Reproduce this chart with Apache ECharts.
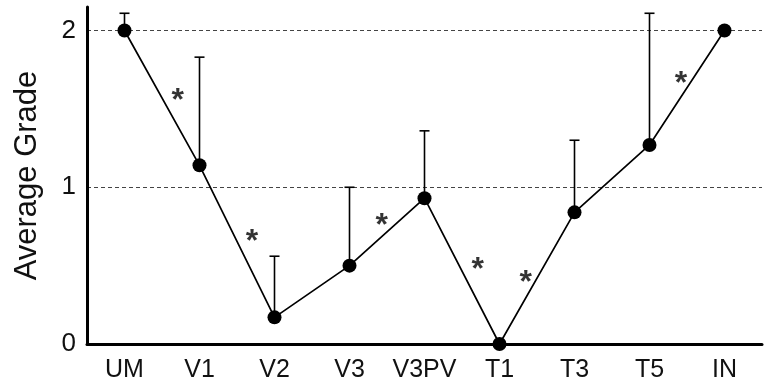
<!DOCTYPE html>
<html>
<head>
<meta charset="utf-8">
<script src="https://cdn.jsdelivr.net/npm/echarts@6/dist/echarts.min.js"></script>
<style>
  html, body { margin: 0; padding: 0; background: #fff; }
  #chart { width: 765px; height: 385px; }
</style>
</head>
<body>
<div id="chart"></div>
<script>
// regions along the pathway
const categories = ["UM", "V1", "V2", "V3", "V3PV", "T1", "T3", "T5", "IN"];
// mean grade per region
const means = [2.0, 1.14, 0.17, 0.50, 0.93, 0.0, 0.84, 1.27, 2.0];
// top of the error bar (mean + error)
const upper = [2.11, 1.83, 0.56, 1.0, 1.36, 0.0, 1.30, 2.11, 2.0];
// significance marks: [position along x (category index), grade]
const starX = [0.71, 1.70, 3.43, 4.71, 5.35, 7.42];
const starY = [1.60, 0.70, 0.80, 0.52, 0.44, 1.71];
const yTicks = [0, 1, 2];

const chart = echarts.init(document.getElementById("chart"));

const font = "'Liberation Sans', Arial, sans-serif";

const option = {
    animation: false,
    backgroundColor: "#fff",
    grid: { left: 87, right: 3, top: 7, bottom: 41 },
    xAxis: [
        {
            type: "category",
            data: categories,
            boundaryGap: true,
            axisLine: { lineStyle: { color: "#000", width: 3 } },
            axisTick: { show: false },
            axisLabel: { color: "#111", fontSize: 25, fontFamily: font, margin: 14, interval: 0 },
        },
        {
            // hidden helper axis to place the asterisks between categories
            type: "value",
            min: -0.5,
            max: categories.length - 0.5,
            show: false,
        },
    ],
    yAxis: {
        type: "value",
        min: 0,
        max: 2.15,
        interval: 1,
        name: "Average Grade",
        nameLocation: "middle",
        nameGap: 44,
        nameTextStyle: { color: "#111", fontSize: 31, fontFamily: font },
        axisLine: { show: true, onZero: false, lineStyle: { color: "#000", width: 3 } },
        axisTick: { show: false },
        axisLabel: {
            color: "#111",
            fontSize: 26,
            fontFamily: font,
            margin: 11,
            showMaxLabel: false,
            formatter: (v) => (yTicks.includes(v) ? String(v) : ""),
        },
        splitLine: {
            show: true,
            showMinLine: false,
            showMaxLine: false,
            lineStyle: { color: "#444", width: 1, type: [4, 3] },
        },
    },
    series: [
        {
            name: "error",
            type: "custom",
            xAxisIndex: 0,
            data: categories.map((c, i) => [i, means[i], upper[i]]),
            renderItem: (params, api) => {
                const lo = api.coord([api.value(0), api.value(1)]);
                const hi = api.coord([api.value(0), api.value(2)]);
                if (Math.abs(lo[1] - hi[1]) < 1) return null;
                const style = { stroke: "#000", lineWidth: 1.6 };
                return {
                    type: "group",
                    children: [
                        { type: "line", shape: { x1: lo[0], y1: lo[1], x2: hi[0], y2: hi[1] }, style },
                        { type: "line", shape: { x1: hi[0] - 5, y1: hi[1], x2: hi[0] + 5, y2: hi[1] }, style },
                    ],
                };
            },
            z: 2,
        },
        {
            name: "mean",
            type: "line",
            xAxisIndex: 0,
            data: means,
            symbol: "circle",
            symbolSize: 14,
            itemStyle: { color: "#000" },
            lineStyle: { color: "#000", width: 1.7 },
            z: 3,
        },
        {
            name: "stars",
            type: "scatter",
            xAxisIndex: 1,
            data: starX.map((x, i) => [x, starY[i]]),
            symbolSize: 0,
            label: {
                show: true,
                formatter: "*",
                position: "inside",
                color: "#000",
                fontSize: 32,
                fontWeight: "bold",
                fontFamily: font,
                offset: [0, 8],
            },
            z: 4,
        },
    ],
};

chart.setOption(option);
</script>
</body>
</html>
